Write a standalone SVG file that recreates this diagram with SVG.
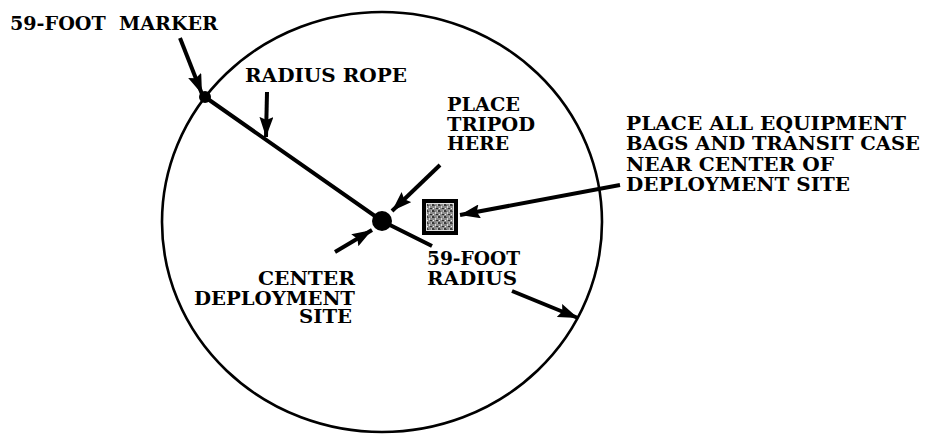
<svg xmlns="http://www.w3.org/2000/svg" width="931" height="435" viewBox="0 0 931 435">
<style>
.t{font-family:"DejaVu Serif","Liberation Serif",serif;font-weight:bold;font-size:19px;fill:#000}
.arr{stroke:#000;stroke-width:4;fill:none;marker-end:url(#ah)}
</style>
<defs>
<marker id="ah" markerUnits="userSpaceOnUse" markerWidth="22" markerHeight="14" refX="20" refY="7" orient="auto">
<path d="M0,0 L20,7 L0,14 L3,7 Z" fill="#000"/>
</marker>
<pattern id="spk" width="6" height="6" patternUnits="userSpaceOnUse">
<rect width="6" height="6" fill="#8c8c8c"/>
<rect x="0" y="0" width="2" height="2" fill="#3a3a3a"/>
<rect x="3" y="2" width="1" height="2" fill="#d8d8d8"/>
<rect x="4" y="4" width="2" height="1" fill="#2e2e2e"/>
<rect x="1" y="4" width="1" height="1" fill="#eee"/>
<rect x="2" y="1" width="1" height="1" fill="#5a5a5a"/>
<rect x="5" y="0" width="1" height="2" fill="#bbb"/>
</pattern>
</defs>
<rect width="931" height="435" fill="#fff"/>
<g id="site">
<ellipse cx="382" cy="222" rx="220" ry="210" fill="none" stroke="#000" stroke-width="2.6"/>
</g>
<g id="rope">
<polyline points="205,97 382,221 432,246" fill="none" stroke="#000" stroke-width="4"/>
</g>
<g id="marker"><circle cx="205" cy="97" r="6" fill="#000"/></g>
<g id="center"><circle cx="382" cy="221" r="10" fill="#000"/></g>
<g id="box">
<rect x="422" y="199" width="36" height="36" fill="#000"/>
<rect x="426" y="203" width="28" height="28" fill="#e0e0e0"/>
<rect x="427" y="204" width="26" height="26" fill="url(#spk)"/>
</g>
<g id="connectors">
<line class="arr" x1="180" y1="38" x2="202" y2="94"/>
<line class="arr" x1="267" y1="92" x2="266" y2="137"/>
<line class="arr" x1="440" y1="165" x2="392" y2="211"/>
<line class="arr" x1="335" y1="252" x2="372" y2="230"/>
<line class="arr" x1="620" y1="185" x2="460" y2="215"/>
<line class="arr" x1="512" y1="291" x2="578" y2="318"/>
</g>
<g id="labels">
<text class="t" x="10" y="30" style="white-space:pre" textLength="208" lengthAdjust="spacingAndGlyphs">59-FOOT  MARKER</text>
<text class="t" x="245" y="82" textLength="162" lengthAdjust="spacingAndGlyphs">RADIUS ROPE</text>
<text class="t" x="447" y="111" textLength="73" lengthAdjust="spacingAndGlyphs">PLACE</text>
<text class="t" x="447" y="131" textLength="88" lengthAdjust="spacingAndGlyphs">TRIPOD</text>
<text class="t" x="447" y="150" textLength="62" lengthAdjust="spacingAndGlyphs">HERE</text>
<text class="t" x="626" y="130" textLength="280" lengthAdjust="spacingAndGlyphs">PLACE ALL EQUIPMENT</text>
<text class="t" x="626" y="150" textLength="294" lengthAdjust="spacingAndGlyphs">BAGS AND TRANSIT CASE</text>
<text class="t" x="626" y="171" textLength="208" lengthAdjust="spacingAndGlyphs">NEAR CENTER OF</text>
<text class="t" x="626" y="191" textLength="224" lengthAdjust="spacingAndGlyphs">DEPLOYMENT SITE</text>
<text class="t" x="355" y="285" text-anchor="end" textLength="97" lengthAdjust="spacingAndGlyphs">CENTER</text>
<text class="t" x="355" y="305" text-anchor="end" textLength="161" lengthAdjust="spacingAndGlyphs">DEPLOYMENT</text>
<text class="t" x="352" y="323" text-anchor="end" textLength="53" lengthAdjust="spacingAndGlyphs">SITE</text>
<text class="t" x="427" y="265" textLength="93" lengthAdjust="spacingAndGlyphs">59-FOOT</text>
<text class="t" x="427" y="285" textLength="90" lengthAdjust="spacingAndGlyphs">RADIUS</text>
</g>
</svg>
